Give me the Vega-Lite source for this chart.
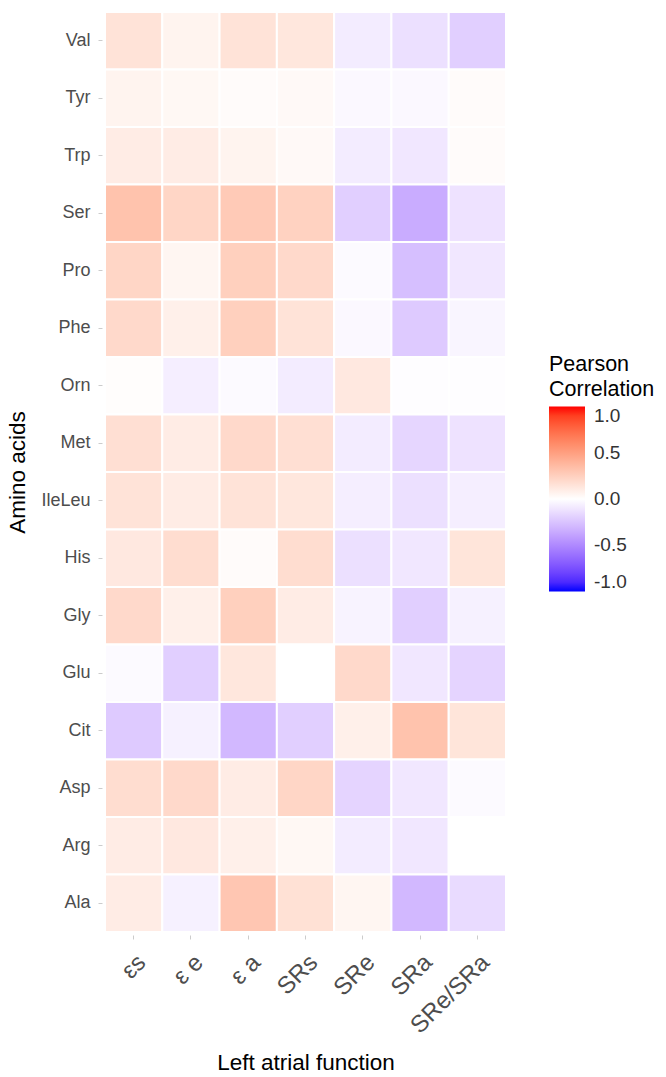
{
  "$schema": "https://vega.github.io/schema/vega-lite/v6.json",
  "autosize": "none",
  "padding": {"left": 105, "top": 12, "right": 160, "bottom": 145},
  "width": 401,
  "height": 920,
  "background": "white",
  "config": {
    "view": {"stroke": null},
    "font": "Liberation Sans"
  },
  "data": {
    "values": [
      {"aa": "Val", "f": "εs", "r": 0.15}, {"aa": "Val", "f": "ε e", "r": 0.06}, {"aa": "Val", "f": "ε a", "r": 0.15}, {"aa": "Val", "f": "SRs", "r": 0.13}, {"aa": "Val", "f": "SRe", "r": -0.08}, {"aa": "Val", "f": "SRa", "r": -0.13}, {"aa": "Val", "f": "SRe/SRa", "r": -0.2},
      {"aa": "Tyr", "f": "εs", "r": 0.06}, {"aa": "Tyr", "f": "ε e", "r": 0.04}, {"aa": "Tyr", "f": "ε a", "r": 0.02}, {"aa": "Tyr", "f": "SRs", "r": 0.03}, {"aa": "Tyr", "f": "SRe", "r": -0.03}, {"aa": "Tyr", "f": "SRa", "r": -0.03}, {"aa": "Tyr", "f": "SRe/SRa", "r": 0.02},
      {"aa": "Trp", "f": "εs", "r": 0.1}, {"aa": "Trp", "f": "ε e", "r": 0.1}, {"aa": "Trp", "f": "ε a", "r": 0.06}, {"aa": "Trp", "f": "SRs", "r": 0.03}, {"aa": "Trp", "f": "SRe", "r": -0.08}, {"aa": "Trp", "f": "SRa", "r": -0.1}, {"aa": "Trp", "f": "SRe/SRa", "r": 0.02},
      {"aa": "Ser", "f": "εs", "r": 0.32}, {"aa": "Ser", "f": "ε e", "r": 0.22}, {"aa": "Ser", "f": "ε a", "r": 0.28}, {"aa": "Ser", "f": "SRs", "r": 0.24}, {"aa": "Ser", "f": "SRe", "r": -0.2}, {"aa": "Ser", "f": "SRa", "r": -0.35}, {"aa": "Ser", "f": "SRe/SRa", "r": -0.12},
      {"aa": "Pro", "f": "εs", "r": 0.22}, {"aa": "Pro", "f": "ε e", "r": 0.05}, {"aa": "Pro", "f": "ε a", "r": 0.25}, {"aa": "Pro", "f": "SRs", "r": 0.2}, {"aa": "Pro", "f": "SRe", "r": -0.02}, {"aa": "Pro", "f": "SRa", "r": -0.27}, {"aa": "Pro", "f": "SRe/SRa", "r": -0.1},
      {"aa": "Phe", "f": "εs", "r": 0.2}, {"aa": "Phe", "f": "ε e", "r": 0.08}, {"aa": "Phe", "f": "ε a", "r": 0.25}, {"aa": "Phe", "f": "SRs", "r": 0.15}, {"aa": "Phe", "f": "SRe", "r": -0.03}, {"aa": "Phe", "f": "SRa", "r": -0.22}, {"aa": "Phe", "f": "SRe/SRa", "r": -0.04},
      {"aa": "Orn", "f": "εs", "r": 0.01}, {"aa": "Orn", "f": "ε e", "r": -0.07}, {"aa": "Orn", "f": "ε a", "r": -0.02}, {"aa": "Orn", "f": "SRs", "r": -0.08}, {"aa": "Orn", "f": "SRe", "r": 0.12}, {"aa": "Orn", "f": "SRa", "r": -0.01}, {"aa": "Orn", "f": "SRe/SRa", "r": -0.01},
      {"aa": "Met", "f": "εs", "r": 0.17}, {"aa": "Met", "f": "ε e", "r": 0.1}, {"aa": "Met", "f": "ε a", "r": 0.2}, {"aa": "Met", "f": "SRs", "r": 0.17}, {"aa": "Met", "f": "SRe", "r": -0.08}, {"aa": "Met", "f": "SRa", "r": -0.17}, {"aa": "Met", "f": "SRe/SRa", "r": -0.12},
      {"aa": "IleLeu", "f": "εs", "r": 0.15}, {"aa": "IleLeu", "f": "ε e", "r": 0.1}, {"aa": "IleLeu", "f": "ε a", "r": 0.15}, {"aa": "IleLeu", "f": "SRs", "r": 0.13}, {"aa": "IleLeu", "f": "SRe", "r": -0.07}, {"aa": "IleLeu", "f": "SRa", "r": -0.13}, {"aa": "IleLeu", "f": "SRe/SRa", "r": -0.07},
      {"aa": "His", "f": "εs", "r": 0.12}, {"aa": "His", "f": "ε e", "r": 0.18}, {"aa": "His", "f": "ε a", "r": 0.02}, {"aa": "His", "f": "SRs", "r": 0.18}, {"aa": "His", "f": "SRe", "r": -0.13}, {"aa": "His", "f": "SRa", "r": -0.1}, {"aa": "His", "f": "SRe/SRa", "r": 0.14},
      {"aa": "Gly", "f": "εs", "r": 0.2}, {"aa": "Gly", "f": "ε e", "r": 0.08}, {"aa": "Gly", "f": "ε a", "r": 0.25}, {"aa": "Gly", "f": "SRs", "r": 0.1}, {"aa": "Gly", "f": "SRe", "r": -0.05}, {"aa": "Gly", "f": "SRa", "r": -0.2}, {"aa": "Gly", "f": "SRe/SRa", "r": -0.06},
      {"aa": "Glu", "f": "εs", "r": -0.02}, {"aa": "Glu", "f": "ε e", "r": -0.2}, {"aa": "Glu", "f": "ε a", "r": 0.13}, {"aa": "Glu", "f": "SRs", "r": 0.0}, {"aa": "Glu", "f": "SRe", "r": 0.2}, {"aa": "Glu", "f": "SRa", "r": -0.1}, {"aa": "Glu", "f": "SRe/SRa", "r": -0.18},
      {"aa": "Cit", "f": "εs", "r": -0.22}, {"aa": "Cit", "f": "ε e", "r": -0.06}, {"aa": "Cit", "f": "ε a", "r": -0.3}, {"aa": "Cit", "f": "SRs", "r": -0.2}, {"aa": "Cit", "f": "SRe", "r": 0.08}, {"aa": "Cit", "f": "SRa", "r": 0.32}, {"aa": "Cit", "f": "SRe/SRa", "r": 0.14},
      {"aa": "Asp", "f": "εs", "r": 0.18}, {"aa": "Asp", "f": "ε e", "r": 0.2}, {"aa": "Asp", "f": "ε a", "r": 0.1}, {"aa": "Asp", "f": "SRs", "r": 0.22}, {"aa": "Asp", "f": "SRe", "r": -0.18}, {"aa": "Asp", "f": "SRa", "r": -0.1}, {"aa": "Asp", "f": "SRe/SRa", "r": -0.02},
      {"aa": "Arg", "f": "εs", "r": 0.1}, {"aa": "Arg", "f": "ε e", "r": 0.12}, {"aa": "Arg", "f": "ε a", "r": 0.08}, {"aa": "Arg", "f": "SRs", "r": 0.04}, {"aa": "Arg", "f": "SRe", "r": -0.08}, {"aa": "Arg", "f": "SRa", "r": -0.1}, {"aa": "Arg", "f": "SRe/SRa", "r": 0.0},
      {"aa": "Ala", "f": "εs", "r": 0.1}, {"aa": "Ala", "f": "ε e", "r": -0.06}, {"aa": "Ala", "f": "ε a", "r": 0.3}, {"aa": "Ala", "f": "SRs", "r": 0.16}, {"aa": "Ala", "f": "SRe", "r": 0.05}, {"aa": "Ala", "f": "SRa", "r": -0.3}, {"aa": "Ala", "f": "SRe/SRa", "r": -0.15}
    ]
  },
  "mark": {"type": "rect", "stroke": "white", "strokeWidth": 2},
  "encoding": {
    "x": {
      "field": "f", "type": "nominal",
      "sort": ["εs", "ε e", "ε a", "SRs", "SRe", "SRa", "SRe/SRa"],
      "scale": {"paddingInner": 0, "paddingOuter": 0},
      "axis": {
        "title": "Left atrial function", "titleFontSize": 22.5, "titleFontWeight": "normal", "titleColor": "black", "titlePadding": 14,
        "labelAngle": -45, "labelAlign": "right", "labelBaseline": "top", "labelFontSize": 24, "labelColor": "#4D4D4D", "labelPadding": 11,
        "domain": false, "tickColor": "#CCCCCC", "tickSize": 4, "offset": 3
      }
    },
    "y": {
      "field": "aa", "type": "nominal",
      "sort": ["Val", "Tyr", "Trp", "Ser", "Pro", "Phe", "Orn", "Met", "IleLeu", "His", "Gly", "Glu", "Cit", "Asp", "Arg", "Ala"],
      "scale": {"paddingInner": 0, "paddingOuter": 0},
      "axis": {
        "title": "Amino acids", "titleFontSize": 22.5, "titleFontWeight": "normal", "titleColor": "black", "titlePadding": 11,
        "labelFontSize": 18, "labelColor": "#4D4D4D", "labelPadding": 8,
        "domain": false, "tickColor": "#CCCCCC", "tickSize": 4, "offset": 3
      }
    },
    "color": {
      "field": "r", "type": "quantitative",
      "scale": {"type": "linear", "domain": [-1, 0, 1], "range": ["blue", "white", "red"], "interpolate": "lab"},
      "legend": {
        "title": ["Pearson", "Correlation"], "titleFontSize": 21.5, "titleFontWeight": "normal", "titleColor": "black", "titleLineHeight": 25, "titlePadding": 6,
        "orient": "none", "legendX": 444, "legendY": 342,
        "gradientLength": 185, "gradientThickness": 36, "gradientStrokeWidth": 0,
        "values": [-1, -0.5, 0, 0.5, 1], "format": ".1f",
        "labelExpr": "replace(datum.label, '−', '-')",
        "labelFontSize": 19, "labelColor": "#333333", "labelOffset": 9,
        "direction": "vertical"
      }
    }
  }
}
